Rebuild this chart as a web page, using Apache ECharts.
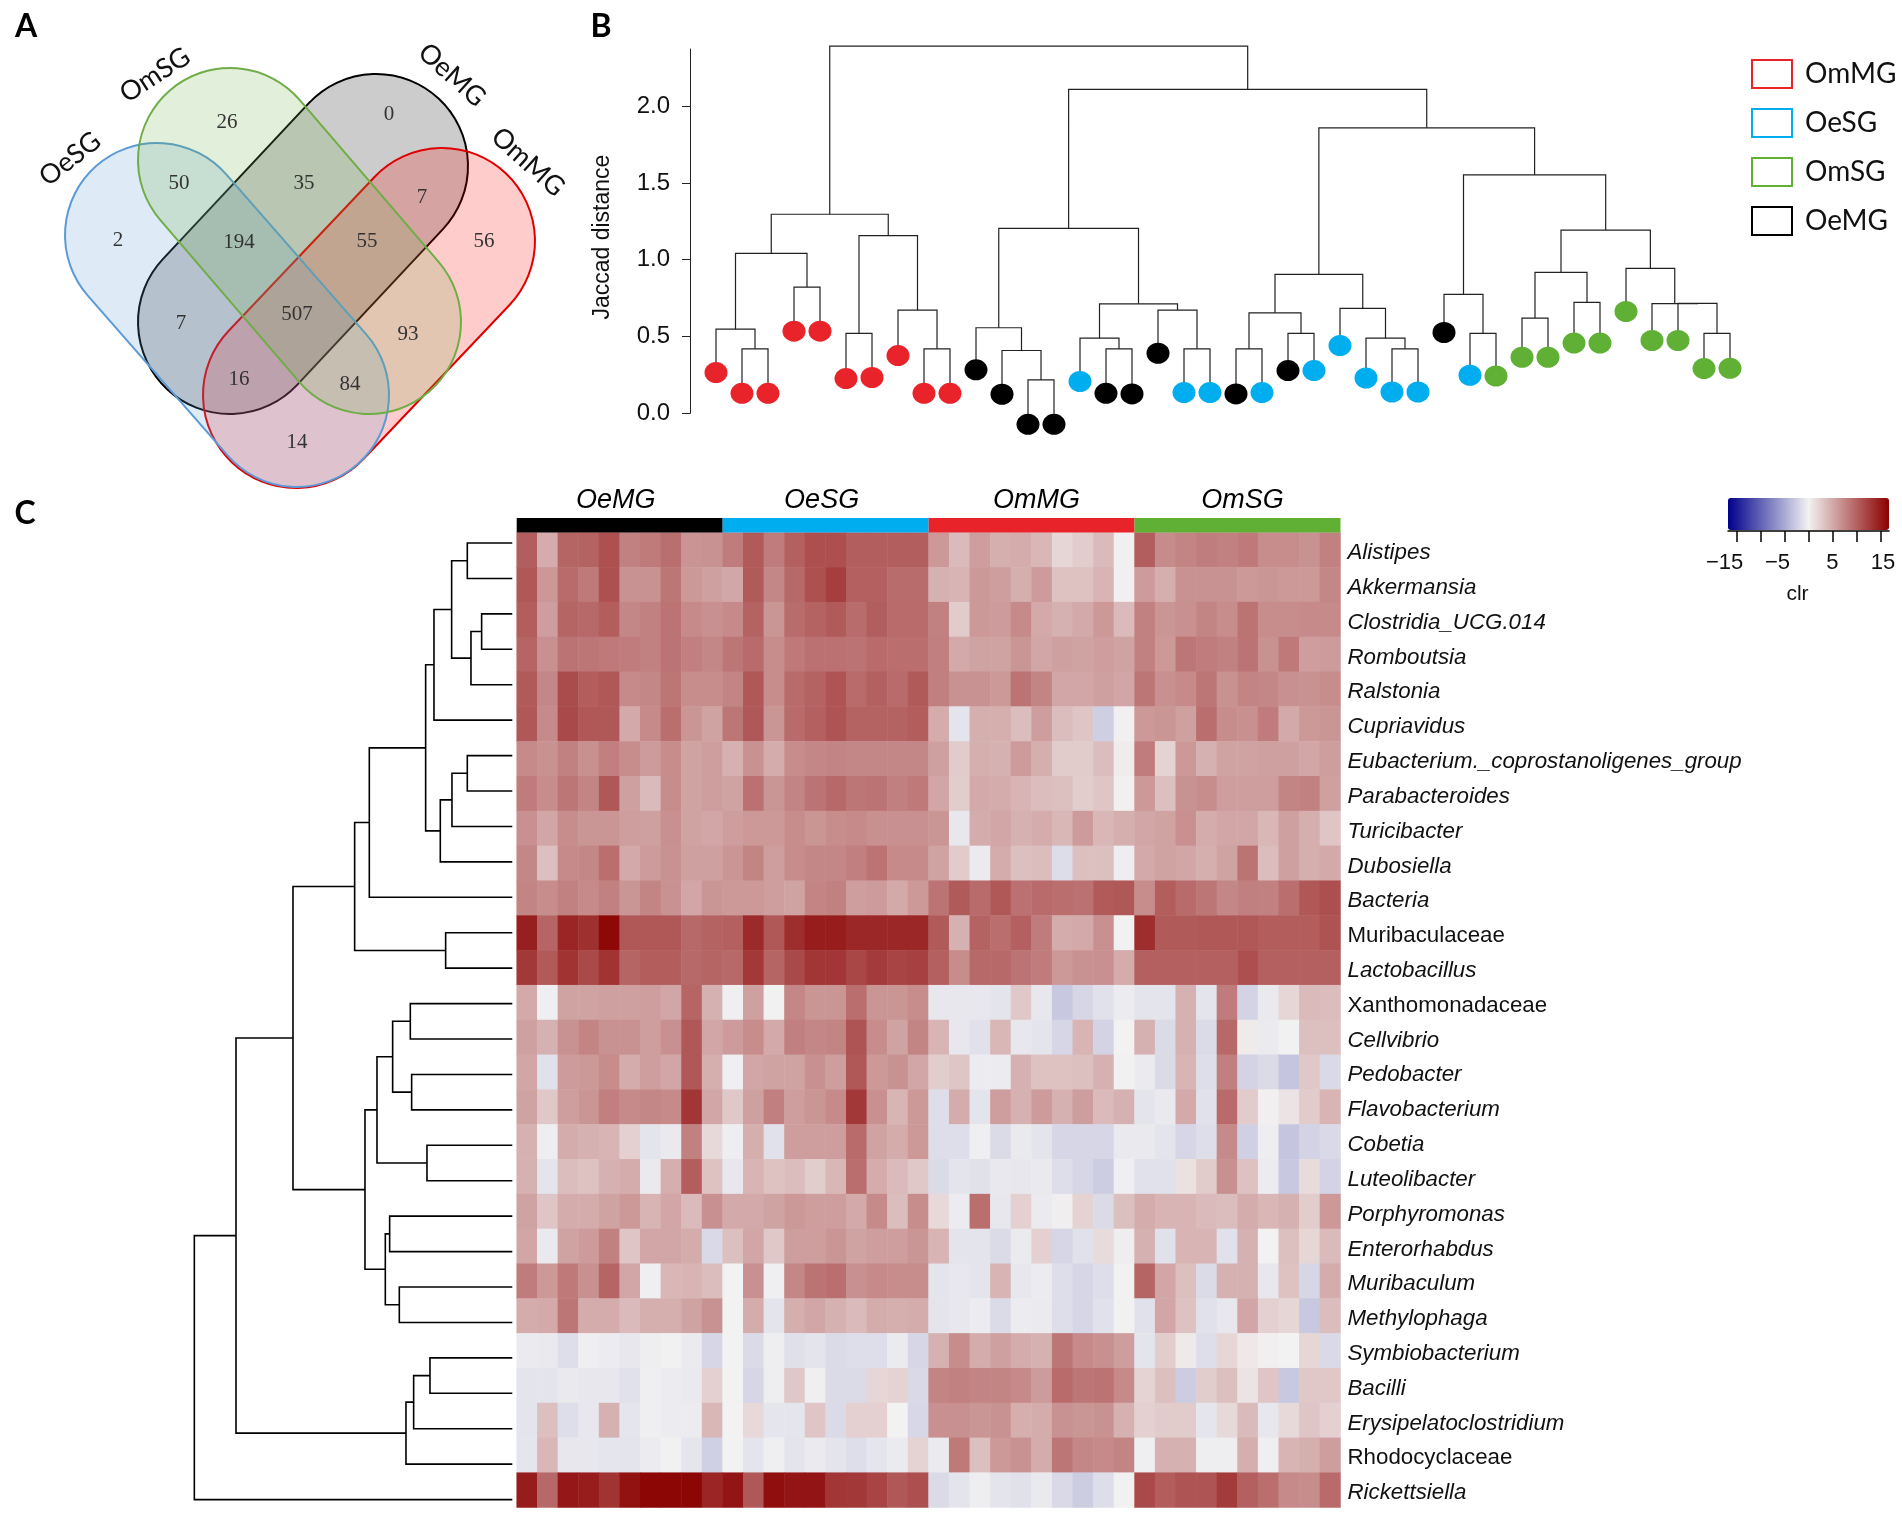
<!DOCTYPE html>
<html><head><meta charset="utf-8">
<style>html,body{margin:0;padding:0;background:#fff}#c{width:1902px;height:1514px}</style>
<script src="https://cdn.jsdelivr.net/npm/echarts@6/dist/echarts.min.js"></script>
</head><body><div id="c"></div>
<script>
// ---------- Panel A data
const vennSets = ['OeSG','OmSG','OeMG','OmMG'];
const vennCounts = [26,0,50,35,7,2,194,55,56,7,507,93,16,84,14];
// ---------- Panel B data
const sampleGroups = ['OmMG','OeSG','OmSG','OeMG'];
const leafGroups = ['OmMG','OmMG','OmMG','OmMG','OmMG','OmMG','OmMG','OmMG','OmMG','OmMG',
 'OeMG','OeMG','OeMG','OeMG','OeSG','OeMG','OeMG','OeMG','OeSG','OeSG',
 'OeMG','OeSG','OeMG','OeSG','OeSG','OeSG','OeSG','OeSG','OeMG','OeSG',
 'OmSG','OmSG','OmSG','OmSG','OmSG','OmSG','OmSG','OmSG','OmSG','OmSG'];
const leafHang = [.265,.13,.13,.535,.535,.226,.233,.376,.13,.13,
 .283,.124,-.072,-.072,.207,.13,.126,.391,.135,.135,
 .126,.135,.278,.278,.441,.23,.139,.139,.526,.248,
 .243,.365,.365,.457,.457,.663,.474,.474,.291,.293];
const sampleMerges = [[-2,-3,.42],[-1,1,.548],[-4,-5,.822],[2,3,1.041],[-6,-7,.52],[-9,-10,.42],[-8,6,.672],[5,7,1.157],[4,8,1.296],
 [-13,-14,.217],[-12,10,.409],[-11,11,.557],[-16,-17,.42],[-15,13,.489],[-19,-20,.42],[-18,15,.672],[14,16,.713],[12,17,1.204],
 [-21,-22,.42],[-23,-24,.52],[19,20,.654],[-27,-28,.42],[-26,22,.489],[-25,23,.683],[21,24,.904],
 [-30,-31,.52],[-29,26,.774],[-32,-33,.62],[-34,-35,.722],[28,29,.917],[-39,-40,.52],[-38,31,.716],[-37,32,.714],[-36,33,.943],
 [30,34,1.193],[27,35,1.552],[25,36,1.859],[18,37,2.109],[9,38,2.391]];
// ---------- Panel C data
const heatGroups = ['OeMG','OeSG','OmMG','OmSG'];
const taxa = ['Alistipes','Akkermansia','Clostridia_UCG.014','Romboutsia','Ralstonia','Cupriavidus','Eubacterium._coprostanoligenes_group','Parabacteroides','Turicibacter','Dubosiella','Bacteria','Muribaculaceae','Lactobacillus','Xanthomonadaceae','Cellvibrio','Pedobacter','Flavobacterium','Cobetia','Luteolibacter','Porphyromonas','Enterorhabdus','Muribaculum','Methylophaga','Symbiobacterium','Bacilli','Erysipelatoclostridium','Rhodocyclaceae','Rickettsiella'];
const uprightTaxa = ['Muribaculaceae','Xanthomonadaceae','Rhodocyclaceae'];
const clrAlistipes = [10.5,5,10,10.2,11.5,8,8.5,9.3,6.7,6.8, 8.4,10.8,8.4,10.4,11.6,11.6,10.5,10.5,10.5,10.5, 6.4,4,6,4.8,5,4.2,2,2.7,4,.2, 10.5,7.3,7.8,8.3,8,8.6,7.2,7.2,6.8,8];
const clrAkkermansia = [11,6.5,9.6,8.6,11.5,6.8,6.8,8.8,6.3,5.8, 5.3,10.8,7.6,9.8,11.5,12.8,10.4,10.4,9.5,9.5, 4.6,4.4,6.3,6,4.8,6.2,3.4,3.4,4.4,.2, 6.2,4.8,6.8,6.8,6.8,6.4,6.6,6.4,6.4,7.6];
const clrClostridia = [10.6,6,10,9.8,10.6,7.6,8,9,7.4,7, 7.4,10.2,6.6,9.5,10.2,10.8,9.5,10.5,9.6,9.6, 8,2.8,6.4,6.2,7.4,5.2,4.6,5.2,6.4,4, 8,6.6,7,7.8,7.2,9,7.2,7.2,7.4,7.4];
const clrRomboutsia = [10,7,9,8.8,8.6,8.4,8,9,8.2,7.6, 8.8,9.6,7.2,8.6,9.2,9.2,9,9.6,9.4,9.4, 8.2,5.2,5.6,5.6,6.6,5.4,5.8,5.6,6,5.6, 8,6.4,8.8,8.4,8,9,6.8,8.6,6,6.2];
const clrRalstonia = [10.8,7.6,11.8,10.6,11,7.4,7.6,8.8,7.2,7.2, 7.8,11,7.2,9.6,10.2,11.2,9.6,10.4,9.6,10.8, 8.2,6.8,6.8,6.4,9,7.8,5.4,5.4,5.8,5.4, 8.8,7,7.4,8.8,6.8,7.8,7.6,7,6.8,7.2];
const clrCupriavidus = [11,7.4,12,11,11,5.2,7.4,9.4,6.6,5.6, 8.8,11,6.6,9.6,10.4,11.2,10.2,10.2,10.2,10.6, 5,-1,4.8,4.8,3.8,6,3.8,3.2,-2.5,.2, 6.4,6.6,5.8,9.4,7.2,7,8.4,5.2,6.4,6.6];
const clrEubacterium = [7.4,6.8,8,7,8.2,7.2,6.2,7.2,5.6,6, 4.6,6.8,5,7.2,7.6,7.8,7.6,7.6,7.6,7.6, 5.8,2.8,4.8,4.6,6.2,4.8,2.8,2.8,3.8,.4, 8.4,2.2,6.4,4.6,5.6,5.6,5.8,5.8,5.4,6];
const clrParabacteroides = [8.4,7.2,8.8,7.8,11,5.8,4,7.2,5.6,6, 5.6,9.2,6.6,7.8,9,9.8,8.8,9,8.2,8.6, 5.4,2.6,5.2,5,4.4,3.8,3.6,2.6,3.2,.2, 6.4,3.6,6.8,7.2,6,6,6,7.8,8,5.8];
const clrTuricibacter = [7,5.4,7.2,6.6,6.6,6,5.8,7,5.6,5.4, 6,6.4,6.4,7.2,6.6,7.2,7.4,7,7,7, 6.6,-.8,5,5.4,4.6,5,4.2,6.2,4.2,4.8, 5.4,5.6,7,5,5.4,5.4,4.2,5.8,4.8,3.2];
const clrDubosiella = [7.6,3.6,7.4,7.6,9.4,5.2,6.2,6.8,5.8,5.8, 6.6,7.8,6,7.2,7.6,7.6,8.2,9,7.4,7.4, 5.6,2.8,-.5,5,3.6,3.8,-1.5,3.6,3.6,-.3, 5.2,5.6,5.4,4.8,5.6,9,3.8,5.8,4.8,5.2];
const clrBacteria = [7.8,7.2,8,7.4,8,6.6,7.8,6.8,5.4,6.6, 6.4,6.4,6,5.6,7.8,8,6,6.2,5.2,6.4, 9,10.8,9.6,11,9.2,9.6,9.4,9.2,10.8,11, 7.2,10.6,9.6,8.8,7.6,8.2,8,9.4,11,11.6];
const clrMuribaculaceae = [15,10,14.6,13.8,16.6,11,11,11,9.8,10.2, 10.4,14.2,11,14,15.2,15.2,14.4,14.4,14.4,14.4, 10.8,4.6,10.2,9.4,10.4,8.4,5,5.2,7,.1, 14,10.8,10.8,11,11,11,10.6,10.6,10.6,11.4];
const clrLactobacillus = [13.2,10.8,13.6,12,13.6,10,10.6,10.6,9.8,10, 9.8,13.2,10,12,13.4,13.4,12.2,13,12.4,12.6, 10.4,7.2,9.8,9.8,9,8.4,6.4,6.8,7,5, 10.4,10.4,10.4,10.4,10.4,11.6,10.4,10.4,10.4,10.4];
const clrXanthomonadaceae = [5.2,-.2,5.6,5.6,5.8,5.8,6,5.4,10,4.6, -.2,5.8,-.1,7.6,6.6,6.6,9.4,6.6,6.6,7.2, -.8,-.8,-.8,-1,3,-.8,-3,-2,-1.2,-.4, -1,-1,4.6,-1,8.4,-2.2,-.6,2,4,3.8];
const clrCellvibrio = [5.8,4.6,6.8,7.8,6.8,6.8,6,7,11,5.4, 6.2,7.2,5.2,8.2,7.6,7.8,11.2,7.2,5.6,7.8, 4.4,-.8,-1.2,4.2,-.8,-1,-2,4.4,-2.2,0, 4.6,-1.6,4.6,-1.6,9.8,.5,-.5,.1,3.6,3.6];
const clrPedobacter = [5.4,-1.2,6.2,6.4,7.2,5,6,5.4,11,4.8, -.2,5.4,5.6,5.6,7,6,11,6.4,6.8,5.4, 2.6,3.2,-.4,-.4,4.6,3.4,3.4,3.6,4.6,-.1, -.5,-1.6,4.4,-1.4,8.2,-2.2,-1.6,-3.2,3,-1.8];
const clrFlavobacterium = [5.6,3,6,6.6,8.2,7.4,7.6,7.4,13.4,5.4, 3,5.8,8.2,6,6.6,7.4,13.2,7,4.4,6.4, -1.4,5,-1,6,4.6,6.2,4.6,6,4,4.6, -1,-.6,5.2,-1.2,9.6,2.8,.2,1,2.8,4.4];
const clrCobetia = [4.6,-.3,5,4.6,4.4,2.4,-1,-.6,8,1.8, -.3,4.8,-1.2,6,6,6,9.6,5.6,5,6.4, -1.4,-1.4,-.2,-1.6,-.6,-1,-2,-2,-2,-.6, -.6,-1,-2,-1.4,7.4,-2.4,-.3,-3.2,-2.2,-1.8];
const clrLuteolibacter = [4.6,-1,3.8,3.4,4.6,5,-.6,4.8,10.6,3.4, -.8,4.4,3.4,3.8,2.6,4.2,9.4,5,4,3, -1.6,-1,-1.2,-.7,-.8,-.6,-1.4,-2,-2.6,-.2, -1.2,-1.2,1.2,2.8,7,3.4,-.4,-3,1.6,-2.2];
const clrPorphyromonas = [5.6,3.2,5,5,5.6,6.4,4.4,5.4,4,7, 5.2,5.2,5.6,6.4,6,6,5.2,7.4,3.8,7.2, 1.8,-.4,9.4,-.8,2.4,-.5,.3,2.2,-1.6,3.6, 5,4.4,4.4,4,3.8,5,4.2,4.6,2.6,6.4];
const clrEnterorhabdus = [5.4,-.6,5.6,6.2,8,3.2,5.4,5.4,5,-1.8, 3.6,5.4,3,6,6,6.6,5.6,6,6,6.6, 4.4,-1,-1,-1.6,-.5,2.4,-2,-1.2,1.6,-.3, 4.6,-1.2,4.4,4.4,-1.2,4.6,0,3.6,2,4];
const clrMuribaculum = [8.4,6.4,8.6,7,10,5.4,-.2,4.2,4.4,3.8, 0,7,-.2,7.6,9,9.4,7,7.4,7.2,7.2, -1,-.8,-1,4.4,-.8,-.4,-1.4,-2,-1.4,.1, 10,5.4,3.6,-1.6,4.6,4.6,-.8,3.4,-2,5];
const clrMethylophaga = [5,5.2,8.8,5,5,4,4.8,4.8,5.6,6.8, 0,5,-1,4.8,5.4,4.6,4,5,4.8,5, -1,-.8,-.4,-1.6,-.4,-.5,-1.4,-2,-1.2,-.1, -1.2,5.4,3.4,-1.2,-.8,5.4,2.4,2,-3,3.8];
const clrSymbiobacterium = [-.5,-.6,-1.4,-.2,-.4,-.8,-.3,-.1,-.5,-2, 0,-1.6,-.3,-1.3,-1,-1.6,-1.4,-1.4,-.5,-2, 4.6,7.2,5,5.8,5,4.6,8.8,7.4,7,6, -1,2.6,.6,-1.4,2,.7,.2,0,2,-1.8];
const clrBacilli = [-1,-1,-.6,-.8,-.8,-1.2,-.2,-.4,-.6,2.4, 0,-2,-.3,3,-.2,-1.6,-1.6,2,2.2,-1.8, 7.8,8,7.8,7.8,7.4,6.2,9.6,8.8,9,7.4, 2.2,3.6,-2.6,2.6,3.6,1,3.2,-3,3,3];
const clrErysipelato = [-1,3.6,-1.4,-.8,4.6,-.9,-.2,-.4,-.4,4.2, 0,1.8,-.9,-.9,3.2,-1.6,2.4,2.4,0,-1.9, 7,7,6.6,6.8,4.8,5,6.8,6.6,6.8,4.6, 2.4,2.8,2.8,-.9,1.8,4,-.8,1.8,3.2,2.4];
const clrRhodocyclaceae = [-.9,4.2,-.8,-.8,-.9,-1,-.4,-.1,-.9,-2.4, 0,-1,-.2,-1,-.5,-1,-1.4,-.9,-.5,2.2, -.5,8.6,3.6,6.4,6.8,5,8.8,7.6,7.4,7.8, -.2,4.6,4.6,-.3,-.3,4.8,-.2,4.4,4.8,6];
const clrRickettsiella = [15.2,9.8,15.6,15.2,13.6,16,16.8,16.8,16.8,14.6, 15.8,11,16.2,15.8,15.8,13.4,13.2,12.4,11,11.6, -1.6,-1,-.3,-1,-1.2,-.6,-1.8,-2.6,-1.4,-.1, 12,10.6,11.2,11.2,13,10.4,9.4,7.4,7.2,9.6];
const heatRows = [clrAlistipes,clrAkkermansia,clrClostridia,clrRomboutsia,clrRalstonia,clrCupriavidus,clrEubacterium,clrParabacteroides,clrTuricibacter,clrDubosiella,clrBacteria,clrMuribaculaceae,clrLactobacillus,clrXanthomonadaceae,clrCellvibrio,clrPedobacter,clrFlavobacterium,clrCobetia,clrLuteolibacter,clrPorphyromonas,clrEnterorhabdus,clrMuribaculum,clrMethylophaga,clrSymbiobacterium,clrBacilli,clrErysipelato,clrRhodocyclaceae,clrRickettsiella];
const taxaMerges = [[-1,-2,1.35],[-3,-4,.92],[2,-5,1.24],[1,3,1.82],[4,-6,2.35],[-7,-8,1.35],[6,-9,1.81],[7,-10,2.16],[5,8,2.6],[9,-11,4.29],[-12,-13,2],[10,11,4.73],
 [-14,-15,3.06],[-16,-17,3.02],[13,14,3.59],[-18,-19,2.56],[15,16,4.06],[-20,-21,3.68],[-22,-23,3.39],[18,19,3.81],[17,20,4.42],[12,21,6.58],
 [-24,-25,2.47],[23,-26,2.96],[24,-27,3.19],[22,25,8.29],[26,-28,9.54]];
const clrTicks = [-15,-10,-5,0,5,10,15];
const clrTickLabels = [-15,-5,5,15];
const clrLimit = 17.2;

// ---------- styles and layout, kept apart from the values
const groupColors = {OmMG:'#e8232a',OeSG:'#00aeef',OmSG:'#5fb034',OeMG:'#000000'};
const vennStyle = [
 {c1:[376,166],c2:[230,322],r:92,fill:'rgba(0,0,0,0.2)',stroke:'#000000'},
 {c1:[442,241],c2:[296,395],r:93,fill:'rgba(255,0,0,0.2)',stroke:'#e00000'},
 {c1:[157,235],c2:[297,395],r:92,fill:'rgba(91,155,213,0.2)',stroke:'#5b9bd5'},
 {c1:[230,160],c2:[369,322],r:92,fill:'rgba(112,173,71,0.2)',stroke:'#70ad47'}];
const vennTextPos = [[227,122],[389,114],[179,183],[304,183],[422,197],[118,240],[239,242],[367,241],[484,241],[181,323],[297,314],[408,334],[239,379],[350,384],[297,442]];
const vennSetLabelPos = [[70,159,38],[155,75,33],[452,75,-42],[528,162,-42]];
const panelLetters = [['A',26,27],['B',601,27],['C',25,514]];
const sans = 'Liberation Sans';

function dendroLinks(merges, leafValue){
  const nodes = merges.map(()=>null), links = [];
  const pos = id => id<0 ? {p:-id, v:leafValue(-id)} : nodes[id-1];
  merges.forEach((m,i)=>{
    const a = pos(m[0]), b = pos(m[1]);
    const l = a.p<=b.p ? a : b, r = a.p<=b.p ? b : a;
    links.push([l.p,l.v,r.p,r.v,m[2]]);
    nodes[i] = {p:(a.p+b.p)/2, v:m[2]};
  });
  return links;
}
const sampleLinks = dendroLinks(sampleMerges, i=>leafHang[i-1]);
const taxaLinks = dendroLinks(taxaMerges, ()=>0);
const renderUpright = (w,col)=>(params,api)=>{
  const a=api.coord([api.value(0),api.value(1)]), b=api.coord([api.value(0),api.value(4)]),
        c=api.coord([api.value(2),api.value(4)]), d=api.coord([api.value(2),api.value(3)]);
  return {type:'polyline',shape:{points:[a,b,c,d]},style:{stroke:col,lineWidth:w,fill:'none'},silent:true};
};
const renderSideways = (w,col)=>(params,api)=>{
  const a=api.coord([api.value(1),api.value(0)]), b=api.coord([api.value(4),api.value(0)]),
        c=api.coord([api.value(4),api.value(2)]), d=api.coord([api.value(3),api.value(2)]);
  return {type:'polyline',shape:{points:[a,b,c,d]},style:{stroke:col,lineWidth:w,fill:'none'},silent:true};
};

const heatData = [];
heatRows.forEach((row,r)=>row.forEach((v,c)=>heatData.push([c,r,v])));

const graphics = [];
vennStyle.forEach(s=>{
  const dx=s.c2[0]-s.c1[0], dy=s.c2[1]-s.c1[1], len=Math.hypot(dx,dy), w=len+2*s.r, h=2*s.r;
  graphics.push({type:'rect',x:(s.c1[0]+s.c2[0])/2,y:(s.c1[1]+s.c2[1])/2,rotation:-Math.atan2(dy,dx),
    shape:{x:-w/2,y:-h/2,width:w,height:h,r:s.r},style:{fill:s.fill,stroke:s.stroke,lineWidth:2},silent:true});
});
vennCounts.forEach((n,i)=>graphics.push({type:'text',x:vennTextPos[i][0],y:vennTextPos[i][1],silent:true,
  style:{text:String(n),font:'21px "Liberation Serif",serif',fill:'#333',align:'center',verticalAlign:'middle'}}));
vennSets.forEach((n,i)=>graphics.push({type:'text',x:vennSetLabelPos[i][0],y:vennSetLabelPos[i][1],rotation:vennSetLabelPos[i][2]*Math.PI/180,silent:true,
  style:{text:n,font:'27px Lato,sans-serif',fill:'#111',align:'center',verticalAlign:'middle'}}));
panelLetters.forEach(p=>graphics.push({type:'text',x:p[1],y:p[2],silent:true,
  style:{text:p[0],font:'bold 32px Lato,sans-serif',fill:'#000',align:'center',verticalAlign:'middle'}}));

const tickLabelRich = {l12:{fontFamily:sans,fontSize:22,color:'#111',padding:[0,24,0,0]},l6:{fontFamily:sans,fontSize:22,color:'#111',padding:[0,14,0,0]},
  l0:{fontFamily:sans,fontSize:22,color:'#111'},r3:{fontFamily:sans,fontSize:22,color:'#111',padding:[0,0,0,5]}};
const tickLabelKey = {'-15':'l12','-5':'l6','5':'l0','15':'r3'};
const headStyle = {fontFamily:sans,fontStyle:'italic',fontSize:27,color:'#000'};
const headRich = {OeMG:{...headStyle,padding:[0,8,0,0]},OeSG:{...headStyle,padding:[0,8,0,0]},OmMG:{...headStyle,padding:[0,0,0,10]},OmSG:{...headStyle,padding:[0,0,0,10]}};

const chart = echarts.init(document.getElementById('c'),null,{renderer:'canvas'});
chart.setOption({
  animation:false,backgroundColor:'#fff',
  graphic:graphics,
  legend:{orient:'vertical',left:1751,top:59,itemWidth:40,itemHeight:28,itemGap:19,padding:0,selectedMode:false,
    textStyle:{fontFamily:'Lato',fontSize:28,color:'#111',padding:[0,0,0,8]},
    data:sampleGroups.map(g=>({name:g,icon:'rect',itemStyle:{color:'rgba(0,0,0,0)',borderColor:groupColors[g],borderWidth:2}}))},
  visualMap:{type:'continuous',min:-clrLimit,max:clrLimit,seriesIndex:sampleGroups.length,orient:'horizontal',left:1728,top:498,padding:0,
    itemWidth:32,itemHeight:161,calculable:false,hoverLink:false,text:null,showLabel:false,
    inRange:{color:['#00008b','#f2f2f2','#8b0000']}},
  grid:[
    {left:686,top:49,width:1070,height:364.3},
    {left:516.7,top:532.5,width:823.8,height:975},
    {left:516.7,top:518,width:823.8,height:14.5},
    {left:190,top:543,width:322.3,height:956.6},
    {left:1728,top:530,width:161,height:1}
  ],
  xAxis:[
    {gridIndex:0,type:'value',min:-0.154,max:41,show:false},
    {gridIndex:1,type:'category',data:heatRows[0].map((_,i)=>i),show:false},
    {gridIndex:2,type:'category',data:heatGroups,position:'top',axisLine:{show:false},axisTick:{show:false},
      axisLabel:{margin:4,interval:0,formatter:v=>'{'+v+'|'+v+'}',rich:headRich}},
    {gridIndex:3,type:'value',min:0,max:9.67,inverse:true,show:false},
    {gridIndex:4,type:'value',min:-16.8,max:16.8,position:'bottom',
      splitLine:{show:false},axisLine:{show:true,lineStyle:{color:'#000',width:1.5}},
      axisTick:{show:true,length:11,lineStyle:{color:'#000',width:1.5},customValues:clrTicks},
      axisLabel:{customValues:clrTickLabels,margin:21,hideOverlap:false,
        formatter:v=>'{'+tickLabelKey[String(v)]+'|'+String(v).replace('-','\u2212')+'}',rich:tickLabelRich},
      name:'clr',nameLocation:'center',nameGap:53,nameMoveOverlap:false,nameTextStyle:{fontFamily:sans,fontSize:21,color:'#111',padding:[0,22,0,0]}}
  ],
  yAxis:[
    {gridIndex:0,type:'value',min:0,max:2.372,interval:.5,splitLine:{show:false},
      axisLine:{show:true,lineStyle:{color:'#222',width:1}},axisTick:{show:true,length:8,lineStyle:{color:'#222'}},
      axisLabel:{fontFamily:sans,fontSize:24,color:'#111',margin:16,formatter:v=>v.toFixed(1),showMaxLabel:false},
      name:'Jaccad distance',nameLocation:'center',nameGap:72,nameRotate:90,nameTextStyle:{fontFamily:sans,fontSize:23,color:'#111',padding:[0,12,0,0]}},
    {gridIndex:1,type:'category',data:taxa,inverse:true,position:'right',axisLine:{show:false},axisTick:{show:false},
      axisLabel:{interval:0,margin:7,formatter:v=>uprightTaxa.includes(v)?'{u|'+v+'}':'{i|'+v+'}',
        rich:{i:{fontFamily:sans,fontStyle:'italic',fontSize:22.3,color:'#111',padding:[6,0,0,0]},
              u:{fontFamily:sans,fontSize:22.3,color:'#111',padding:[6,0,0,0]}}}},
    {gridIndex:2,type:'value',min:0,max:1,show:false},
    {gridIndex:3,type:'value',min:1,max:28,inverse:true,show:false},
    {gridIndex:4,type:'value',min:0,max:1,show:false}
  ],
  series:[
    ...sampleGroups.map(g=>({type:'scatter',name:g,xAxisIndex:0,yAxisIndex:0,z:5,clip:false,silent:true,
      symbol:'circle',symbolSize:[23,21],itemStyle:{color:groupColors[g],opacity:1},
      data:leafGroups.map((lg,i)=>lg===g?[i+1,leafHang[i]]:null).filter(Boolean)})),
    {type:'heatmap',xAxisIndex:1,yAxisIndex:1,data:heatData,progressive:0,itemStyle:{borderWidth:0},emphasis:{disabled:true},silent:true},
    {type:'custom',xAxisIndex:0,yAxisIndex:0,clip:false,silent:true,z:2,data:sampleLinks,renderItem:renderUpright(1.2,'#222')},
    {type:'bar',xAxisIndex:2,yAxisIndex:2,barWidth:'100%',silent:true,
      data:heatGroups.map(g=>({value:1,itemStyle:{color:groupColors[g]}}))},
    {type:'custom',xAxisIndex:3,yAxisIndex:3,clip:false,silent:true,data:taxaLinks,renderItem:renderSideways(1.6,'#000')}
  ]
});
</script></body></html>
